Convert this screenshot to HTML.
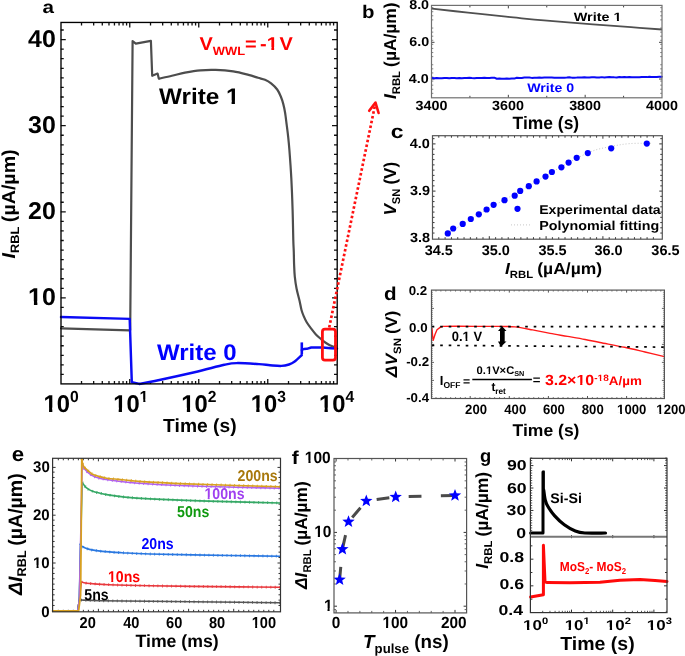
<!DOCTYPE html>
<html><head><meta charset="utf-8"><style>
html,body{margin:0;padding:0;background:#fff;overflow:hidden;}
svg{display:block;font-family:"Liberation Sans", sans-serif;text-rendering:geometricPrecision;will-change:transform;}
</style></head><body>
<svg width="685" height="656" viewBox="0 0 685 656">
<rect width="685" height="656" fill="#fff"/>
<path d="M60.75,297.9h5M337,297.9h-5M60.75,211.8h5M337,211.8h-5M60.75,125.7h5M337,125.7h-5M60.75,39.6h5M337,39.6h-5" fill="none" stroke="#111" stroke-width="1.3" />
<path d="M60.75,374.43h3M337,374.43h-3M60.75,364.87h3M337,364.87h-3M60.75,355.3h3M337,355.3h-3M60.75,345.73h3M337,345.73h-3M60.75,336.17h3M337,336.17h-3M60.75,326.6h3M337,326.6h-3M60.75,317.03h3M337,317.03h-3M60.75,307.46h3M337,307.46h-3M60.75,288.33h3M337,288.33h-3M60.75,278.76h3M337,278.76h-3M60.75,269.2h3M337,269.2h-3M60.75,259.63h3M337,259.63h-3M60.75,250.06h3M337,250.06h-3M60.75,240.5h3M337,240.5h-3M60.75,230.93h3M337,230.93h-3M60.75,221.36h3M337,221.36h-3M60.75,202.23h3M337,202.23h-3M60.75,192.66h3M337,192.66h-3M60.75,183.09h3M337,183.09h-3M60.75,173.53h3M337,173.53h-3M60.75,163.96h3M337,163.96h-3M60.75,154.39h3M337,154.39h-3M60.75,144.82h3M337,144.82h-3M60.75,135.26h3M337,135.26h-3M60.75,116.12h3M337,116.12h-3M60.75,106.56h3M337,106.56h-3M60.75,96.99h3M337,96.99h-3M60.75,87.42h3M337,87.42h-3M60.75,77.86h3M337,77.86h-3M60.75,68.29h3M337,68.29h-3M60.75,58.72h3M337,58.72h-3M60.75,49.15h3M337,49.15h-3M60.75,30.02h3M337,30.02h-3" fill="none" stroke="#111" stroke-width="1.3" />
<path d="M129.75,384v-5M129.75,22.5v5M198.75,384v-5M198.75,22.5v5M267.75,384v-5M267.75,22.5v5" fill="none" stroke="#111" stroke-width="1.3" />
<path d="M81.52,384v-3M81.52,22.5v3M93.67,384v-3M93.67,22.5v3M102.29,384v-3M102.29,22.5v3M108.98,384v-3M108.98,22.5v3M114.44,384v-3M114.44,22.5v3M119.06,384v-3M119.06,22.5v3M123.06,384v-3M123.06,22.5v3M126.59,384v-3M126.59,22.5v3M150.52,384v-3M150.52,22.5v3M162.67,384v-3M162.67,22.5v3M171.29,384v-3M171.29,22.5v3M177.98,384v-3M177.98,22.5v3M183.44,384v-3M183.44,22.5v3M188.06,384v-3M188.06,22.5v3M192.06,384v-3M192.06,22.5v3M195.59,384v-3M195.59,22.5v3M219.52,384v-3M219.52,22.5v3M231.67,384v-3M231.67,22.5v3M240.29,384v-3M240.29,22.5v3M246.98,384v-3M246.98,22.5v3M252.44,384v-3M252.44,22.5v3M257.06,384v-3M257.06,22.5v3M261.06,384v-3M261.06,22.5v3M264.59,384v-3M264.59,22.5v3M288.52,384v-3M288.52,22.5v3M300.67,384v-3M300.67,22.5v3M309.29,384v-3M309.29,22.5v3M315.98,384v-3M315.98,22.5v3M321.44,384v-3M321.44,22.5v3M326.06,384v-3M326.06,22.5v3M330.06,384v-3M330.06,22.5v3M333.59,384v-3M333.59,22.5v3" fill="none" stroke="#111" stroke-width="1.3" />
<polyline points="61,328.4 129.7,330.3" fill="none" stroke="#4d4d4d" stroke-width="2.2" stroke-linejoin="round" stroke-linecap="round" />
<polyline points="130.2,330 132.6,41.1 135.8,43.6 150.9,40.9 152.2,75.8 157.6,73.6 158.8,78.6" fill="none" stroke="#4d4d4d" stroke-width="2.2" stroke-linejoin="round" stroke-linecap="round" />
<path d="M158.8,78.6C160.98,78.13 167.53,76.78 171.9,75.8C176.27,74.82 180.25,73.62 185,72.7C189.75,71.78 195.28,70.77 200.4,70.3C205.52,69.83 210.23,69.72 215.7,69.9C221.17,70.08 227.73,70.57 233.2,71.4C238.67,72.23 244.37,73.83 248.5,74.9C252.63,75.97 255.25,76.98 258,77.8C260.75,78.62 262.82,78.87 265,79.8C267.18,80.73 269.07,81.78 271.1,83.4C273.13,85.02 275.57,87.27 277.2,89.5C278.83,91.73 279.88,94.37 280.9,96.8C281.92,99.23 282.6,101.45 283.3,104.1C284,106.75 284.53,109.23 285.1,112.7C285.67,116.17 286.18,120.83 286.7,124.9C287.22,128.97 287.75,132.92 288.2,137.1C288.65,141.28 288.88,143.18 289.4,150C289.92,156.82 290.77,168 291.3,178C291.83,188 292.27,199.67 292.6,210C292.93,220.33 293.1,232.97 293.3,240C293.5,247.03 293.67,248.13 293.8,252.2C293.93,256.27 293.93,260.33 294.1,264.4C294.27,268.47 294.38,272.53 294.8,276.6C295.22,280.67 295.8,284.73 296.6,288.8C297.4,292.87 298.78,297.47 299.6,301C300.42,304.53 300.82,307.48 301.5,310C302.18,312.52 302.83,314.07 303.7,316.1C304.57,318.13 305.48,320.17 306.7,322.2C307.92,324.23 309.47,326.27 311,328.3C312.53,330.33 314.18,332.57 315.9,334.4C317.62,336.23 319.48,337.78 321.3,339.3C323.12,340.82 324.87,342.28 326.8,343.5C328.73,344.72 331.2,345.93 332.9,346.6C334.6,347.27 336.32,347.35 337,347.5" fill="none" stroke="#4d4d4d" stroke-width="2.2" stroke-linejoin="round"/>
<polyline points="61,317 129.7,318.9 131.8,382.3 139.7,383.9" fill="none" stroke="#0a0af5" stroke-width="2.45" stroke-linejoin="round" stroke-linecap="round" />
<path d="M139.7,383.9C142.22,383.42 145.67,382.93 154.8,381C163.93,379.07 182.92,375 194.5,372.3C206.08,369.6 217.27,366.33 224.3,364.8C231.33,363.27 230.92,363.22 236.7,363.1C242.48,362.98 253.45,363.75 259,364.1C264.55,364.45 266.27,364.9 270,365.2C273.73,365.5 278.23,366.02 281.4,365.9C284.57,365.78 286.78,365.23 289,364.5C291.22,363.77 292.57,363.08 294.7,361.5C296.83,359.92 300.62,356.08 301.8,355" fill="none" stroke="#0a0af5" stroke-width="2.45" stroke-linecap="round"/>
<line x1="301.8" y1="342.4" x2="301.8" y2="354.1" stroke="#0a0af5" stroke-width="2.6" />
<polyline points="301.8,350 303.9,349 306.8,348.8 311.2,347.5 322.8,347.5 330.9,348.2 337,348.6" fill="none" stroke="#0a0af5" stroke-width="2.45" stroke-linejoin="round" stroke-linecap="round" />
<rect x="61" y="22.45" width="276.2" height="361.45" fill="none" stroke="#000" stroke-width="1.35" />
<rect x="322.4" y="329.2" width="13.1" height="30.9" rx="2.6" fill="none" stroke="#ff1010" stroke-width="2.8"/>
<line x1="329.2" y1="327.6" x2="375.2" y2="104.2" stroke="#ff1010" stroke-width="2.7" stroke-dasharray="2.7 2.15"/>
<polyline points="369.2,110.8 375.5,102.6 378.6,113" fill="none" stroke="#ff1010" stroke-width="2.6" stroke-linejoin="round" stroke-linecap="round" />
<path d="M431.5,79.04h3M662,79.04h-3M431.5,42.32h3M662,42.32h-3" fill="none" stroke="#444" stroke-width="1" />
<path d="M431.5,93.32h1.8M662,93.32h-1.8M431.5,89.24h1.8M662,89.24h-1.8M431.5,85.16h1.8M662,85.16h-1.8M431.5,81.08h1.8M662,81.08h-1.8M431.5,77h1.8M662,77h-1.8M431.5,72.92h1.8M662,72.92h-1.8M431.5,68.84h1.8M662,68.84h-1.8M431.5,64.76h1.8M662,64.76h-1.8M431.5,56.6h1.8M662,56.6h-1.8M431.5,52.52h1.8M662,52.52h-1.8M431.5,48.44h1.8M662,48.44h-1.8M431.5,44.37h1.8M662,44.37h-1.8M431.5,40.29h1.8M662,40.29h-1.8M431.5,36.21h1.8M662,36.21h-1.8M431.5,32.13h1.8M662,32.13h-1.8M431.5,28.05h1.8M662,28.05h-1.8M431.5,19.89h1.8M662,19.89h-1.8M431.5,15.81h1.8M662,15.81h-1.8M431.5,11.73h1.8M662,11.73h-1.8M431.5,7.65h1.8M662,7.65h-1.8" fill="none" stroke="#777" stroke-width="0.9" />
<path d="M508.33,97.8v-3M508.33,5.4v3M585.17,97.8v-3M585.17,5.4v3" fill="none" stroke="#444" stroke-width="1" />
<path d="M469.92,97.8v-2M469.92,5.4v2M546.75,97.8v-2M546.75,5.4v2M623.58,97.8v-2M623.58,5.4v2" fill="none" stroke="#444" stroke-width="1" />
<path d="M431.9,8.7C437.92,9.35 455.65,11.28 468,12.6C480.35,13.92 497.33,15.68 506,16.6C514.67,17.52 513.67,17.47 520,18.1C526.33,18.73 531.83,19.35 544,20.4C556.17,21.45 578.5,23.27 593,24.4C607.5,25.53 619.5,26.35 631,27.2C642.5,28.05 656.83,29.12 662,29.5" fill="none" stroke="#505050" stroke-width="1.8" />
<polyline points="431.8,78.08 434.3,78.21 436.8,78.12 439.3,78.21 441.8,78.2 444.3,77.94 446.8,77.91 449.3,78.26 451.8,77.99 454.3,77.97 456.8,78.29 459.3,78.04 461.8,78.19 464.3,78.02 466.8,78.08 469.3,77.85 471.8,78.05 474.3,78.14 476.8,77.98 479.3,78.06 481.8,78.01 484.3,77.73 486.8,78.03 489.3,77.94 491.8,77.8 494.3,77.67 496.8,78.72 499.3,78.54 501.8,78.63 504.3,78.69 506.8,78.6 509.3,78.68 511.8,78.44 514.3,78.6 516.8,77.73 519.3,77.94 521.8,77.9 524.3,77.54 526.8,77.54 529.3,77.57 531.8,77.88 534.3,77.64 536.8,77.71 539.3,77.55 541.8,77.63 544.3,77.56 546.8,77.53 549.3,77.62 551.8,77.61 554.3,77.74 556.8,77.63 559.3,77.72 561.8,77.68 564.3,77.72 566.8,77.57 569.3,77.33 571.8,77.63 574.3,77.66 576.8,77.62 579.3,77.46 581.8,77.51 584.3,77.28 586.8,77.54 589.3,77.41 591.8,77.27 594.3,77.16 596.8,77.49 599.3,77.54 601.8,77.13 604.3,77.43 606.8,77.25 609.3,77.12 611.8,77.17 614.3,77.37 616.8,77.4 619.3,77.02 621.8,77.26 624.3,77 626.8,77.28 629.3,77.1 631.8,77.32 634.3,77.35 636.8,77.13 639.3,77.34 641.8,77.02 644.3,76.91 646.8,77.12 649.3,76.86 651.8,76.92 654.3,77 656.8,77.07 659.3,76.86 661.8,76.8" fill="none" stroke="#0a0af5" stroke-width="2.0" stroke-linejoin="round" stroke-linecap="round" />
<rect x="431.5" y="5.4" width="230.5" height="92.4" fill="none" stroke="#707070" stroke-width="1.2" />
<path d="M432.5,191.1h3M662.3,191.1h-3M432.5,143.9h3M662.3,143.9h-3" fill="none" stroke="#333" stroke-width="1" />
<path d="M432.5,233.06h2M662.3,233.06h-2M432.5,227.81h2M662.3,227.81h-2M432.5,222.57h2M662.3,222.57h-2M432.5,217.32h2M662.3,217.32h-2M432.5,212.08h2M662.3,212.08h-2M432.5,206.83h2M662.3,206.83h-2M432.5,201.59h2M662.3,201.59h-2M432.5,196.34h2M662.3,196.34h-2M432.5,185.86h2M662.3,185.86h-2M432.5,180.61h2M662.3,180.61h-2M432.5,175.37h2M662.3,175.37h-2M432.5,170.12h2M662.3,170.12h-2M432.5,164.88h2M662.3,164.88h-2M432.5,159.63h2M662.3,159.63h-2M432.5,154.39h2M662.3,154.39h-2M432.5,149.14h2M662.3,149.14h-2M432.5,138.66h2M662.3,138.66h-2" fill="none" stroke="#333" stroke-width="1" />
<path d="M489.3,239.2v-3M489.3,135.7v3M546.1,239.2v-3M546.1,135.7v3M602.9,239.2v-3M602.9,135.7v3" fill="none" stroke="#333" stroke-width="1" />
<path d="M438.81,239.2v-2M438.81,135.7v2M445.12,239.2v-2M445.12,135.7v2M451.43,239.2v-2M451.43,135.7v2M457.74,239.2v-2M457.74,135.7v2M464.06,239.2v-2M464.06,135.7v2M470.37,239.2v-2M470.37,135.7v2M476.68,239.2v-2M476.68,135.7v2M482.99,239.2v-2M482.99,135.7v2M495.61,239.2v-2M495.61,135.7v2M501.92,239.2v-2M501.92,135.7v2M508.23,239.2v-2M508.23,135.7v2M514.54,239.2v-2M514.54,135.7v2M520.86,239.2v-2M520.86,135.7v2M527.17,239.2v-2M527.17,135.7v2M533.48,239.2v-2M533.48,135.7v2M539.79,239.2v-2M539.79,135.7v2M552.41,239.2v-2M552.41,135.7v2M558.72,239.2v-2M558.72,135.7v2M565.03,239.2v-2M565.03,135.7v2M571.34,239.2v-2M571.34,135.7v2M577.66,239.2v-2M577.66,135.7v2M583.97,239.2v-2M583.97,135.7v2M590.28,239.2v-2M590.28,135.7v2M596.59,239.2v-2M596.59,135.7v2M609.21,239.2v-2M609.21,135.7v2M615.52,239.2v-2M615.52,135.7v2M621.83,239.2v-2M621.83,135.7v2M628.14,239.2v-2M628.14,135.7v2M634.46,239.2v-2M634.46,135.7v2M640.77,239.2v-2M640.77,135.7v2M647.08,239.2v-2M647.08,135.7v2M653.39,239.2v-2M653.39,135.7v2" fill="none" stroke="#333" stroke-width="1" />
<path d="M445,235.5C450.83,231.83 467.5,220.92 480,213.5C492.5,206.08 506.67,198.67 520,191C533.33,183.33 548.33,174 560,167.5C571.67,161 581.5,155.5 590,152C598.5,148.5 604.33,147.9 611,146.5C617.67,145.1 623.17,144.13 630,143.6C636.83,143.07 648.33,143.35 652,143.3" fill="none" stroke="#c8c8c8" stroke-width="1" stroke-dasharray="1 2"/>
<circle cx="447.8" cy="233.4" r="3.1" fill="#0000ff"/>
<circle cx="453.2" cy="228.5" r="3.1" fill="#0000ff"/>
<circle cx="462.7" cy="223.9" r="3.1" fill="#0000ff"/>
<circle cx="470.8" cy="219" r="3.1" fill="#0000ff"/>
<circle cx="478.8" cy="214.3" r="3.1" fill="#0000ff"/>
<circle cx="486.6" cy="209.5" r="3.1" fill="#0000ff"/>
<circle cx="493.6" cy="204.8" r="3.1" fill="#0000ff"/>
<circle cx="504.5" cy="200.2" r="3.1" fill="#0000ff"/>
<circle cx="514.7" cy="195.7" r="3.1" fill="#0000ff"/>
<circle cx="520.2" cy="190.9" r="3.1" fill="#0000ff"/>
<circle cx="528.8" cy="186.2" r="3.1" fill="#0000ff"/>
<circle cx="536.6" cy="181.4" r="3.1" fill="#0000ff"/>
<circle cx="545.5" cy="176.6" r="3.1" fill="#0000ff"/>
<circle cx="551.9" cy="172" r="3.1" fill="#0000ff"/>
<circle cx="561.4" cy="167.3" r="3.1" fill="#0000ff"/>
<circle cx="568.6" cy="162.6" r="3.1" fill="#0000ff"/>
<circle cx="576.7" cy="157.8" r="3.1" fill="#0000ff"/>
<circle cx="587.8" cy="153.1" r="3.1" fill="#0000ff"/>
<circle cx="611.2" cy="148.3" r="3.1" fill="#0000ff"/>
<circle cx="646.8" cy="143.6" r="3.1" fill="#0000ff"/>
<circle cx="517.5" cy="208.8" r="3.1" fill="#0000ff"/>
<line x1="511" y1="224.9" x2="531.5" y2="224.9" stroke="#c8c8c8" stroke-width="1" stroke-dasharray="1 2"/>
<rect x="432.5" y="135.7" width="229.8" height="103.5" fill="none" stroke="#555" stroke-width="1.2" />
<path d="M431.5,380.4h2.5M664.4,380.4h-2.5M431.5,362.4h2.5M664.4,362.4h-2.5M431.5,344.4h2.5M664.4,344.4h-2.5M431.5,326.4h2.5M664.4,326.4h-2.5M431.5,308.4h2.5M664.4,308.4h-2.5" fill="none" stroke="#555" stroke-width="0.9" />
<path d="M431.5,396.4h1.5M664.4,396.4h-1.5M431.5,394.4h1.5M664.4,394.4h-1.5M431.5,392.4h1.5M664.4,392.4h-1.5M431.5,390.4h1.5M664.4,390.4h-1.5M431.5,388.4h1.5M664.4,388.4h-1.5M431.5,386.4h1.5M664.4,386.4h-1.5M431.5,384.4h1.5M664.4,384.4h-1.5M431.5,382.4h1.5M664.4,382.4h-1.5M431.5,378.4h1.5M664.4,378.4h-1.5M431.5,376.4h1.5M664.4,376.4h-1.5M431.5,374.4h1.5M664.4,374.4h-1.5M431.5,372.4h1.5M664.4,372.4h-1.5M431.5,370.4h1.5M664.4,370.4h-1.5M431.5,368.4h1.5M664.4,368.4h-1.5M431.5,366.4h1.5M664.4,366.4h-1.5M431.5,364.4h1.5M664.4,364.4h-1.5M431.5,360.4h1.5M664.4,360.4h-1.5M431.5,358.4h1.5M664.4,358.4h-1.5M431.5,356.4h1.5M664.4,356.4h-1.5M431.5,354.4h1.5M664.4,354.4h-1.5M431.5,352.4h1.5M664.4,352.4h-1.5M431.5,350.4h1.5M664.4,350.4h-1.5M431.5,348.4h1.5M664.4,348.4h-1.5M431.5,346.4h1.5M664.4,346.4h-1.5M431.5,342.4h1.5M664.4,342.4h-1.5M431.5,340.4h1.5M664.4,340.4h-1.5M431.5,338.4h1.5M664.4,338.4h-1.5M431.5,336.4h1.5M664.4,336.4h-1.5M431.5,334.4h1.5M664.4,334.4h-1.5M431.5,332.4h1.5M664.4,332.4h-1.5M431.5,330.4h1.5M664.4,330.4h-1.5M431.5,328.4h1.5M664.4,328.4h-1.5M431.5,324.4h1.5M664.4,324.4h-1.5M431.5,322.4h1.5M664.4,322.4h-1.5M431.5,320.4h1.5M664.4,320.4h-1.5M431.5,318.4h1.5M664.4,318.4h-1.5M431.5,316.4h1.5M664.4,316.4h-1.5M431.5,314.4h1.5M664.4,314.4h-1.5M431.5,312.4h1.5M664.4,312.4h-1.5M431.5,310.4h1.5M664.4,310.4h-1.5M431.5,306.4h1.5M664.4,306.4h-1.5M431.5,304.4h1.5M664.4,304.4h-1.5M431.5,302.4h1.5M664.4,302.4h-1.5M431.5,300.4h1.5M664.4,300.4h-1.5M431.5,298.4h1.5M664.4,298.4h-1.5M431.5,296.4h1.5M664.4,296.4h-1.5M431.5,294.4h1.5M664.4,294.4h-1.5M431.5,292.4h1.5M664.4,292.4h-1.5" fill="none" stroke="#888" stroke-width="0.7" />
<path d="M470.2,398.5v-2.5M470.2,290.1v2.5M509.3,398.5v-2.5M509.3,290.1v2.5M548.4,398.5v-2.5M548.4,290.1v2.5M587.5,398.5v-2.5M587.5,290.1v2.5M626.6,398.5v-2.5M626.6,290.1v2.5" fill="none" stroke="#444" stroke-width="0.9" />
<path d="M435.99,398.5v-1.5M435.99,290.1v1.5M440.88,398.5v-1.5M440.88,290.1v1.5M445.76,398.5v-1.5M445.76,290.1v1.5M450.65,398.5v-1.5M450.65,290.1v1.5M455.54,398.5v-1.5M455.54,290.1v1.5M460.43,398.5v-1.5M460.43,290.1v1.5M465.31,398.5v-1.5M465.31,290.1v1.5M475.09,398.5v-1.5M475.09,290.1v1.5M479.98,398.5v-1.5M479.98,290.1v1.5M484.86,398.5v-1.5M484.86,290.1v1.5M489.75,398.5v-1.5M489.75,290.1v1.5M494.64,398.5v-1.5M494.64,290.1v1.5M499.53,398.5v-1.5M499.53,290.1v1.5M504.41,398.5v-1.5M504.41,290.1v1.5M514.19,398.5v-1.5M514.19,290.1v1.5M519.08,398.5v-1.5M519.08,290.1v1.5M523.96,398.5v-1.5M523.96,290.1v1.5M528.85,398.5v-1.5M528.85,290.1v1.5M533.74,398.5v-1.5M533.74,290.1v1.5M538.62,398.5v-1.5M538.62,290.1v1.5M543.51,398.5v-1.5M543.51,290.1v1.5M553.29,398.5v-1.5M553.29,290.1v1.5M558.18,398.5v-1.5M558.18,290.1v1.5M563.06,398.5v-1.5M563.06,290.1v1.5M567.95,398.5v-1.5M567.95,290.1v1.5M572.84,398.5v-1.5M572.84,290.1v1.5M577.73,398.5v-1.5M577.73,290.1v1.5M582.61,398.5v-1.5M582.61,290.1v1.5M592.39,398.5v-1.5M592.39,290.1v1.5M597.28,398.5v-1.5M597.28,290.1v1.5M602.16,398.5v-1.5M602.16,290.1v1.5M607.05,398.5v-1.5M607.05,290.1v1.5M611.94,398.5v-1.5M611.94,290.1v1.5M616.83,398.5v-1.5M616.83,290.1v1.5M621.71,398.5v-1.5M621.71,290.1v1.5M631.49,398.5v-1.5M631.49,290.1v1.5M636.38,398.5v-1.5M636.38,290.1v1.5M641.26,398.5v-1.5M641.26,290.1v1.5M646.15,398.5v-1.5M646.15,290.1v1.5M651.04,398.5v-1.5M651.04,290.1v1.5M655.92,398.5v-1.5M655.92,290.1v1.5M660.81,398.5v-1.5M660.81,290.1v1.5" fill="none" stroke="#666" stroke-width="0.8" />
<polyline points="432,328.8 432.6,336 433.2,340.4 435,334.5 437,329.8 440.5,327.1 443.1,326.4" fill="none" stroke="#ff1a1a" stroke-width="1.4" stroke-linejoin="round" stroke-linecap="round" />
<path d="M443.1,326.4C445.92,326.38 453.85,326.3 460,326.3C466.15,326.3 473.17,326.38 480,326.4C486.83,326.42 495.17,326.32 501,326.4C506.83,326.48 509.73,326.32 515,326.9C520.27,327.48 526.75,328.82 532.6,329.9C538.45,330.98 544.27,332.32 550.1,333.4C555.93,334.48 561.77,335.38 567.6,336.4C573.43,337.42 579.7,338.48 585.1,339.5C590.5,340.52 593.4,341.2 600,342.5C606.6,343.8 617.2,345.72 624.7,347.3C632.2,348.88 638.38,350.45 645,352C651.62,353.55 661.17,355.83 664.4,356.6" fill="none" stroke="#ff1a1a" stroke-width="1.4" />
<line x1="431.7" y1="326.7" x2="664.4" y2="326.7" stroke="#000" stroke-width="1.7" stroke-dasharray="2.6 5.9"/>
<line x1="431.7" y1="345.3" x2="664.4" y2="347.1" stroke="#000" stroke-width="1.7" stroke-dasharray="2.6 5.9"/>
<path d="M502.1,326.3 L498,331 L500,331 L500,341.6 L498,341.6 L500.9,346.7 L506.5,341.6 L504.7,341.6 L504.7,331 L506.5,331 Z" fill="#000"/>
<line x1="472.3" y1="379.4" x2="531.9" y2="379.4" stroke="#000" stroke-width="1.5" />
<rect x="431.5" y="290.1" width="232.9" height="108.4" fill="none" stroke="#555" stroke-width="1.2" />
<path d="M52.6,563h3M280.5,563h-3M52.6,515.2h3M280.5,515.2h-3M52.6,467.4h3M280.5,467.4h-3" fill="none" stroke="#333" stroke-width="1" />
<path d="M52.6,605.47h2M280.5,605.47h-2M52.6,600.13h2M280.5,600.13h-2M52.6,594.8h2M280.5,594.8h-2M52.6,589.47h2M280.5,589.47h-2M52.6,584.13h2M280.5,584.13h-2M52.6,578.8h2M280.5,578.8h-2M52.6,573.47h2M280.5,573.47h-2M52.6,568.13h2M280.5,568.13h-2M52.6,557.47h2M280.5,557.47h-2M52.6,552.13h2M280.5,552.13h-2M52.6,546.8h2M280.5,546.8h-2M52.6,541.47h2M280.5,541.47h-2M52.6,536.13h2M280.5,536.13h-2M52.6,530.8h2M280.5,530.8h-2M52.6,525.47h2M280.5,525.47h-2M52.6,520.13h2M280.5,520.13h-2M52.6,509.47h2M280.5,509.47h-2M52.6,504.13h2M280.5,504.13h-2M52.6,498.8h2M280.5,498.8h-2M52.6,493.47h2M280.5,493.47h-2M52.6,488.13h2M280.5,488.13h-2M52.6,482.8h2M280.5,482.8h-2M52.6,477.47h2M280.5,477.47h-2M52.6,472.13h2M280.5,472.13h-2" fill="none" stroke="#333" stroke-width="1" />
<path d="M98.4,611.8v-3M98.4,458.3v3M143.5,611.8v-3M143.5,458.3v3M188.6,611.8v-3M188.6,458.3v3M233.7,611.8v-3M233.7,458.3v3" fill="none" stroke="#333" stroke-width="1" />
<path d="M58.31,611.8v-2M58.31,458.3v2M63.32,611.8v-2M63.32,458.3v2M68.33,611.8v-2M68.33,458.3v2M73.34,611.8v-2M73.34,458.3v2M78.36,611.8v-2M78.36,458.3v2M83.37,611.8v-2M83.37,458.3v2M88.38,611.8v-2M88.38,458.3v2M93.39,611.8v-2M93.39,458.3v2M103.41,611.8v-2M103.41,458.3v2M108.42,611.8v-2M108.42,458.3v2M113.43,611.8v-2M113.43,458.3v2M118.44,611.8v-2M118.44,458.3v2M123.46,611.8v-2M123.46,458.3v2M128.47,611.8v-2M128.47,458.3v2M133.48,611.8v-2M133.48,458.3v2M138.49,611.8v-2M138.49,458.3v2M148.51,611.8v-2M148.51,458.3v2M153.52,611.8v-2M153.52,458.3v2M158.53,611.8v-2M158.53,458.3v2M163.54,611.8v-2M163.54,458.3v2M168.56,611.8v-2M168.56,458.3v2M173.57,611.8v-2M173.57,458.3v2M178.58,611.8v-2M178.58,458.3v2M183.59,611.8v-2M183.59,458.3v2M193.61,611.8v-2M193.61,458.3v2M198.62,611.8v-2M198.62,458.3v2M203.63,611.8v-2M203.63,458.3v2M208.64,611.8v-2M208.64,458.3v2M213.66,611.8v-2M213.66,458.3v2M218.67,611.8v-2M218.67,458.3v2M223.68,611.8v-2M223.68,458.3v2M228.69,611.8v-2M228.69,458.3v2M238.71,611.8v-2M238.71,458.3v2M243.72,611.8v-2M243.72,458.3v2M248.73,611.8v-2M248.73,458.3v2M253.74,611.8v-2M253.74,458.3v2M258.76,611.8v-2M258.76,458.3v2M263.77,611.8v-2M263.77,458.3v2M268.78,611.8v-2M268.78,458.3v2M273.79,611.8v-2M273.79,458.3v2" fill="none" stroke="#333" stroke-width="1" />
<polyline points="52.6,611 77.6,611 79.3,600 81,600" fill="none" stroke="#555555" stroke-width="1.5" stroke-linejoin="round" stroke-linecap="round" />
<path d="M81,600C84.17,600.12 88.5,600.48 100,600.7C111.5,600.92 130.83,601.08 150,601.3C169.17,601.52 193.33,601.75 215,602C236.67,602.25 269.17,602.67 280,602.8" fill="none" stroke="#555555" stroke-width="1.6" />
<path d="M81,600C84.17,600.12 88.5,600.48 100,600.7C111.5,600.92 130.83,601.08 150,601.3C169.17,601.52 193.33,601.75 215,602C236.67,602.25 269.17,602.67 280,602.8" fill="none" stroke="#555555" stroke-width="2.8" stroke-dasharray="1 3.5" opacity="0.85"/>
<polyline points="52.6,611 77.6,611 79.3,600 81.4,581.9" fill="none" stroke="#e8383d" stroke-width="1.5" stroke-linejoin="round" stroke-linecap="round" />
<path d="M81.4,581.9C82.32,582.12 82.32,582.73 86.9,583.2C91.48,583.67 98.38,584.27 108.9,584.7C119.42,585.13 132.32,585.48 150,585.8C167.68,586.12 193.33,586.35 215,586.6C236.67,586.85 269.17,587.18 280,587.3" fill="none" stroke="#e8383d" stroke-width="1.6" />
<path d="M81.4,581.9C82.32,582.12 82.32,582.73 86.9,583.2C91.48,583.67 98.38,584.27 108.9,584.7C119.42,585.13 132.32,585.48 150,585.8C167.68,586.12 193.33,586.35 215,586.6C236.67,586.85 269.17,587.18 280,587.3" fill="none" stroke="#e8383d" stroke-width="2.8" stroke-dasharray="1 3.5" opacity="0.85"/>
<polyline points="52.6,611 77.6,611 79.3,600 80.4,543.6" fill="none" stroke="#2a78e0" stroke-width="1.5" stroke-linejoin="round" stroke-linecap="round" />
<path d="M80.4,543.6C80.62,544.03 80.2,545.23 81.7,546.2C83.2,547.17 85.95,548.53 89.4,549.4C92.85,550.27 96.98,550.85 102.4,551.4C107.82,551.95 113.97,552.27 121.9,552.7C129.83,553.13 131.98,553.53 150,554C168.02,554.47 208.33,555.13 230,555.5C251.67,555.87 271.67,556.08 280,556.2" fill="none" stroke="#2a78e0" stroke-width="1.6" />
<path d="M80.4,543.6C80.62,544.03 80.2,545.23 81.7,546.2C83.2,547.17 85.95,548.53 89.4,549.4C92.85,550.27 96.98,550.85 102.4,551.4C107.82,551.95 113.97,552.27 121.9,552.7C129.83,553.13 131.98,553.53 150,554C168.02,554.47 208.33,555.13 230,555.5C251.67,555.87 271.67,556.08 280,556.2" fill="none" stroke="#2a78e0" stroke-width="2.8" stroke-dasharray="1 3.5" opacity="0.85"/>
<polyline points="52.6,611 77.6,611 79.3,600 82.2,482.4" fill="none" stroke="#35a865" stroke-width="1.5" stroke-linejoin="round" stroke-linecap="round" />
<path d="M82.2,482.4C82.82,483.22 84.27,485.87 85.9,487.3C87.53,488.73 88.55,489.78 92,491C95.45,492.22 101.12,493.58 106.6,494.6C112.08,495.62 117.67,496.38 124.9,497.1C132.13,497.82 137.48,498.27 150,498.9C162.52,499.53 178.33,500.22 200,500.9C221.67,501.58 266.67,502.65 280,503" fill="none" stroke="#35a865" stroke-width="1.6" />
<path d="M82.2,482.4C82.82,483.22 84.27,485.87 85.9,487.3C87.53,488.73 88.55,489.78 92,491C95.45,492.22 101.12,493.58 106.6,494.6C112.08,495.62 117.67,496.38 124.9,497.1C132.13,497.82 137.48,498.27 150,498.9C162.52,499.53 178.33,500.22 200,500.9C221.67,501.58 266.67,502.65 280,503" fill="none" stroke="#35a865" stroke-width="2.8" stroke-dasharray="1 3.5" opacity="0.85"/>
<polyline points="52.6,611 77.6,611 79.3,600 82.2,464.1" fill="none" stroke="#b060f0" stroke-width="1.5" stroke-linejoin="round" stroke-linecap="round" />
<path d="M82.2,464.1C82.6,464.92 83.08,467.17 84.6,469C86.12,470.83 88.65,473.52 91.3,475.1C93.95,476.68 95.92,477.48 100.5,478.5C105.08,479.52 110.55,480.28 118.8,481.2C127.05,482.12 136.47,483.15 150,484C163.53,484.85 178.33,485.6 200,486.3C221.67,487 266.67,487.88 280,488.2" fill="none" stroke="#b060f0" stroke-width="1.6" />
<path d="M82.2,464.1C82.6,464.92 83.08,467.17 84.6,469C86.12,470.83 88.65,473.52 91.3,475.1C93.95,476.68 95.92,477.48 100.5,478.5C105.08,479.52 110.55,480.28 118.8,481.2C127.05,482.12 136.47,483.15 150,484C163.53,484.85 178.33,485.6 200,486.3C221.67,487 266.67,487.88 280,488.2" fill="none" stroke="#b060f0" stroke-width="2.8" stroke-dasharray="1 3.5" opacity="0.85"/>
<polyline points="52.6,611 78.6,611 80.6,595 81.8,459" fill="none" stroke="#d8a020" stroke-width="1.8" stroke-linejoin="round" stroke-linecap="round" />
<path d="M81.8,459C82.07,460.17 82.32,464.02 83.4,466C84.48,467.98 86.47,469.38 88.3,470.9C90.13,472.42 91.35,473.88 94.4,475.1C97.45,476.32 102.53,477.48 106.6,478.2C110.67,478.92 114.73,479 118.8,479.4C122.87,479.8 125.8,480.15 131,480.6C136.2,481.05 138.5,481.48 150,482.1C161.5,482.72 178.33,483.53 200,484.3C221.67,485.07 266.67,486.3 280,486.7" fill="none" stroke="#d8a020" stroke-width="1.6" />
<path d="M81.8,459C82.07,460.17 82.32,464.02 83.4,466C84.48,467.98 86.47,469.38 88.3,470.9C90.13,472.42 91.35,473.88 94.4,475.1C97.45,476.32 102.53,477.48 106.6,478.2C110.67,478.92 114.73,479 118.8,479.4C122.87,479.8 125.8,480.15 131,480.6C136.2,481.05 138.5,481.48 150,482.1C161.5,482.72 178.33,483.53 200,484.3C221.67,485.07 266.67,486.3 280,486.7" fill="none" stroke="#d8a020" stroke-width="2.8" stroke-dasharray="1 3.5" opacity="0.85"/>
<rect x="52.6" y="458.3" width="227.9" height="153.5" fill="none" stroke="#333" stroke-width="1.2" />
<path d="M334,606.2h3M466.6,606.2h-3M334,532.4h3M466.6,532.4h-3" fill="none" stroke="#333" stroke-width="1" />
<path d="M334,583.98h2M466.6,583.98h-2M334,570.99h2M466.6,570.99h-2M334,561.77h2M466.6,561.77h-2M334,554.62h2M466.6,554.62h-2M334,548.77h2M466.6,548.77h-2M334,543.83h2M466.6,543.83h-2M334,539.55h2M466.6,539.55h-2M334,535.78h2M466.6,535.78h-2M334,510.18h2M466.6,510.18h-2M334,497.19h2M466.6,497.19h-2M334,487.97h2M466.6,487.97h-2M334,480.82h2M466.6,480.82h-2M334,474.97h2M466.6,474.97h-2M334,470.03h2M466.6,470.03h-2M334,465.75h2M466.6,465.75h-2M334,461.98h2M466.6,461.98h-2" fill="none" stroke="#555" stroke-width="0.9" />
<path d="M334,609.58h2M466.6,609.58h-2" fill="none" stroke="#555" stroke-width="0.9" />
<path d="M336.1,612.9v-3M336.1,458.5v3M395.55,612.9v-3M395.55,458.5v3M455,612.9v-3M455,458.5v3" fill="none" stroke="#333" stroke-width="1" />
<path d="M347.99,612.9v-2M347.99,458.5v2M359.88,612.9v-2M359.88,458.5v2M371.77,612.9v-2M371.77,458.5v2M383.66,612.9v-2M383.66,458.5v2M407.44,612.9v-2M407.44,458.5v2M419.33,612.9v-2M419.33,458.5v2M431.22,612.9v-2M431.22,458.5v2M443.11,612.9v-2M443.11,458.5v2" fill="none" stroke="#555" stroke-width="0.9" />
<path d="M339.6,579.7 L342.4,549.2 L348.5,521.8 L366.3,500.9 L395.7,496.9 L455,495.5" fill="none" stroke="#4a4a4a" stroke-width="3.0" stroke-dasharray="12.8 19.4"/>
<polygon points="339.6,573.2 341.22,577.48 345.78,577.69 342.22,580.55 343.42,584.96 339.6,582.45 335.78,584.96 336.98,580.55 333.42,577.69 337.98,577.48" fill="#0000ff"/>
<polygon points="342.4,542.7 344.02,546.98 348.58,547.19 345.02,550.05 346.22,554.46 342.4,551.95 338.58,554.46 339.78,550.05 336.22,547.19 340.78,546.98" fill="#0000ff"/>
<polygon points="348.5,515.3 350.12,519.58 354.68,519.79 351.12,522.65 352.32,527.06 348.5,524.55 344.68,527.06 345.88,522.65 342.32,519.79 346.88,519.58" fill="#0000ff"/>
<polygon points="366.3,494.4 367.92,498.68 372.48,498.89 368.92,501.75 370.12,506.16 366.3,503.65 362.48,506.16 363.68,501.75 360.12,498.89 364.68,498.68" fill="#0000ff"/>
<polygon points="395.7,490.4 397.32,494.68 401.88,494.89 398.32,497.75 399.52,502.16 395.7,499.65 391.88,502.16 393.08,497.75 389.52,494.89 394.08,494.68" fill="#0000ff"/>
<polygon points="455,489 456.62,493.28 461.18,493.49 457.62,496.35 458.82,500.76 455,498.25 451.18,500.76 452.38,496.35 448.82,493.49 453.38,493.28" fill="#0000ff"/>
<rect x="334" y="458.5" width="132.6" height="154.4" fill="none" stroke="#555" stroke-width="1.2" />
<path d="M530.4,510.46h3M667,510.46h-3M530.4,488.02h3M667,488.02h-3M530.4,465.58h3M667,465.58h-3" fill="none" stroke="#333" stroke-width="1" />
<path d="M530.4,530.41h1.8M667,530.41h-1.8M530.4,527.91h1.8M667,527.91h-1.8M530.4,525.42h1.8M667,525.42h-1.8M530.4,522.93h1.8M667,522.93h-1.8M530.4,520.43h1.8M667,520.43h-1.8M530.4,517.94h1.8M667,517.94h-1.8M530.4,515.45h1.8M667,515.45h-1.8M530.4,512.95h1.8M667,512.95h-1.8M530.4,507.97h1.8M667,507.97h-1.8M530.4,505.47h1.8M667,505.47h-1.8M530.4,502.98h1.8M667,502.98h-1.8M530.4,500.49h1.8M667,500.49h-1.8M530.4,497.99h1.8M667,497.99h-1.8M530.4,495.5h1.8M667,495.5h-1.8M530.4,493.01h1.8M667,493.01h-1.8M530.4,490.51h1.8M667,490.51h-1.8M530.4,485.53h1.8M667,485.53h-1.8M530.4,483.03h1.8M667,483.03h-1.8M530.4,480.54h1.8M667,480.54h-1.8M530.4,478.05h1.8M667,478.05h-1.8M530.4,475.55h1.8M667,475.55h-1.8M530.4,473.06h1.8M667,473.06h-1.8M530.4,470.57h1.8M667,470.57h-1.8M530.4,468.07h1.8M667,468.07h-1.8M530.4,463.09h1.8M667,463.09h-1.8M530.4,460.59h1.8M667,460.59h-1.8M530.4,458.1h1.8M667,458.1h-1.8" fill="none" stroke="#444" stroke-width="0.9" />
<path d="M530.4,585.84h3M667,585.84h-3M530.4,559.18h3M667,559.18h-3" fill="none" stroke="#333" stroke-width="1" />
<path d="M530.4,599.17h2M667,599.17h-2M530.4,572.51h2M667,572.51h-2M530.4,545.85h2M667,545.85h-2" fill="none" stroke="#333" stroke-width="1" />
<path d="M571.5,612.6v-3M571.5,458.3v3M612.7,612.6v-3M612.7,458.3v3M653.9,612.6v-3M653.9,458.3v3" fill="none" stroke="#333" stroke-width="1" />
<path d="M542.7,612.6v-1.8M542.7,458.3v1.8M549.96,612.6v-1.8M549.96,458.3v1.8M555.1,612.6v-1.8M555.1,458.3v1.8M559.1,612.6v-1.8M559.1,458.3v1.8M562.36,612.6v-1.8M562.36,458.3v1.8M565.12,612.6v-1.8M565.12,458.3v1.8M567.51,612.6v-1.8M567.51,458.3v1.8M569.61,612.6v-1.8M569.61,458.3v1.8M583.9,612.6v-1.8M583.9,458.3v1.8M591.16,612.6v-1.8M591.16,458.3v1.8M596.3,612.6v-1.8M596.3,458.3v1.8M600.3,612.6v-1.8M600.3,458.3v1.8M603.56,612.6v-1.8M603.56,458.3v1.8M606.32,612.6v-1.8M606.32,458.3v1.8M608.71,612.6v-1.8M608.71,458.3v1.8M610.81,612.6v-1.8M610.81,458.3v1.8M625.1,612.6v-1.8M625.1,458.3v1.8M632.36,612.6v-1.8M632.36,458.3v1.8M637.5,612.6v-1.8M637.5,458.3v1.8M641.5,612.6v-1.8M641.5,458.3v1.8M644.76,612.6v-1.8M644.76,458.3v1.8M647.52,612.6v-1.8M647.52,458.3v1.8M649.91,612.6v-1.8M649.91,458.3v1.8M652.01,612.6v-1.8M652.01,458.3v1.8M666.3,612.6v-1.8M666.3,458.3v1.8" fill="none" stroke="#444" stroke-width="0.9" />
<path d="M571.5,537.7v-2.5M571.5,535.7v2.5M612.7,537.7v-2.5M612.7,535.7v2.5M653.9,537.7v-2.5M653.9,535.7v2.5" fill="none" stroke="#333" stroke-width="1" />
<polyline points="530.6,533 543,533 543,472" fill="none" stroke="#000" stroke-width="3" stroke-linejoin="round" stroke-linecap="round" />
<line x1="543.7" y1="470.6" x2="543.7" y2="494" stroke="#000" stroke-width="2.2" />
<path d="M543.7,490C543.95,491.67 544.52,497.28 545.2,500C545.88,502.72 546.22,503.65 547.8,506.3C549.38,508.95 551.95,512.82 554.7,515.9C557.45,518.98 560.87,522.28 564.3,524.8C567.73,527.32 571.87,529.63 575.3,531C578.73,532.37 579.87,532.67 584.9,533C589.93,533.33 602.07,533 605.5,533" fill="none" stroke="#000" stroke-width="3.2" stroke-linecap="round"/>
<polyline points="530.6,597.1 543.4,594.8 543.4,545.2 545,581.8 547.3,582.6 570,582.8 600,582.3 620,580.2 640,579.4 655,580.6 667,581.5" fill="none" stroke="#ff0a0a" stroke-width="3" stroke-linejoin="round" stroke-linecap="round" />
<line x1="530.4" y1="536.7" x2="667" y2="536.7" stroke="#777" stroke-width="2" />
<rect x="530.4" y="458.3" width="136.6" height="154.3" fill="none" stroke="#333" stroke-width="1.2" />
<text transform="translate(42.57,12.8) scale(1.0300,0.8727)" font-size="20" font-weight="bold" fill="#000">a</text>
<text transform="translate(361.88,18.1) scale(1.0200,0.9133)" font-size="20" font-weight="bold" fill="#000">b</text>
<text transform="translate(390.76,137.7) scale(1.1444,0.9636)" font-size="20" font-weight="bold" fill="#000">c</text>
<text transform="translate(383.97,299.5) scale(1.0300,0.9267)" font-size="20" font-weight="bold" fill="#000">d</text>
<text transform="translate(11.79,461.4) scale(1.1111,1.0182)" font-size="20" font-weight="bold" fill="#000">e</text>
<text transform="translate(291.8,463.7) scale(1.0429,0.9267)" font-size="20" font-weight="bold" fill="#000">f</text>
<text transform="translate(479.98,461.95) scale(0.9200,0.9133)" font-size="20" font-weight="bold" fill="#000">g</text>
<text transform="translate(28.12,47) scale(1.2469,1.2143)" font-size="20" font-weight="bold" fill="#000">40</text>
<text transform="translate(28.12,133.2) scale(1.2469,1.2143)" font-size="20" font-weight="bold" fill="#000">30</text>
<text transform="translate(28.12,219) scale(1.2469,1.2143)" font-size="20" font-weight="bold" fill="#000">20</text>
<mask id="m_a10" maskUnits="userSpaceOnUse" x="-200" y="-200" width="800" height="400"><rect x="-200" y="-200" width="800" height="400" fill="#fff"/><rect x="-0.2" y="-3.22" width="4.86" height="5.62" fill="#000"/><rect x="7.41" y="-3.22" width="4.01" height="5.62" fill="#000"/></mask>
<text transform="translate(28.12,305.2) scale(1.2469,1.2143)" font-size="20" font-weight="bold" fill="#000" mask="url(#m_a10)">10</text>
<mask id="m_ax0" maskUnits="userSpaceOnUse" x="-200" y="-200" width="800" height="400"><rect x="-200" y="-200" width="800" height="400" fill="#fff"/><rect x="-0.2" y="-3.22" width="4.86" height="5.62" fill="#000"/><rect x="7.41" y="-3.22" width="4.01" height="5.62" fill="#000"/></mask>
<text transform="translate(43.51,411.5) scale(1.1893,1.2118)" font-size="20" font-weight="bold" fill="#000" mask="url(#m_ax0)">10<tspan font-size="13.2" dy="-7.8">0</tspan></text>
<mask id="m_ax1" maskUnits="userSpaceOnUse" x="-200" y="-200" width="800" height="400"><rect x="-200" y="-200" width="800" height="400" fill="#fff"/><rect x="-0.2" y="-3.22" width="4.86" height="5.62" fill="#000"/><rect x="7.41" y="-3.22" width="4.01" height="5.62" fill="#000"/><rect x="22.12" y="-9.93" width="3.21" height="3.71" fill="#000"/><rect x="27.14" y="-9.93" width="2.65" height="3.71" fill="#000"/></mask>
<text transform="translate(113.15,411.5) scale(1.1893,1.2118)" font-size="20" font-weight="bold" fill="#000" mask="url(#m_ax1)">10<tspan font-size="13.2" dy="-7.8">1</tspan></text>
<mask id="m_ax2" maskUnits="userSpaceOnUse" x="-200" y="-200" width="800" height="400"><rect x="-200" y="-200" width="800" height="400" fill="#fff"/><rect x="-0.2" y="-3.22" width="4.86" height="5.62" fill="#000"/><rect x="7.41" y="-3.22" width="4.01" height="5.62" fill="#000"/></mask>
<text transform="translate(181.31,411.5) scale(1.1893,1.2118)" font-size="20" font-weight="bold" fill="#000" mask="url(#m_ax2)">10<tspan font-size="13.2" dy="-7.8">2</tspan></text>
<mask id="m_ax3" maskUnits="userSpaceOnUse" x="-200" y="-200" width="800" height="400"><rect x="-200" y="-200" width="800" height="400" fill="#fff"/><rect x="-0.2" y="-3.22" width="4.86" height="5.62" fill="#000"/><rect x="7.41" y="-3.22" width="4.01" height="5.62" fill="#000"/></mask>
<text transform="translate(250.71,411.5) scale(1.1893,1.2118)" font-size="20" font-weight="bold" fill="#000" mask="url(#m_ax3)">10<tspan font-size="13.2" dy="-7.8">3</tspan></text>
<mask id="m_ax4" maskUnits="userSpaceOnUse" x="-200" y="-200" width="800" height="400"><rect x="-200" y="-200" width="800" height="400" fill="#fff"/><rect x="-0.2" y="-3.22" width="4.86" height="5.62" fill="#000"/><rect x="7.41" y="-3.22" width="4.01" height="5.62" fill="#000"/></mask>
<text transform="translate(318.97,411.5) scale(1.1893,1.2118)" font-size="20" font-weight="bold" fill="#000" mask="url(#m_ax4)">10<tspan font-size="13.2" dy="-7.8">4</tspan></text>
<text transform="translate(163.1,431.79) scale(0.9640,0.9526)" font-size="20" font-weight="bold" fill="#000">Time (s)</text>
<text transform="translate(14.52,258.5) scale(0.9350,0.9818) rotate(-90)" font-size="20" font-weight="bold" fill="#000"><tspan font-style="italic">I</tspan><tspan font-size="13.0" dy="4.6">RBL</tspan><tspan dx="-0.8" dy="-4.6"> (µA/µm)</tspan></text>
<mask id="m_avwwl" maskUnits="userSpaceOnUse" x="-200" y="-200" width="800" height="400"><rect x="-200" y="-200" width="800" height="400" fill="#fff"/><rect x="67.34" y="-3.23" width="4.87" height="5.63" fill="#000"/><rect x="74.96" y="-3.23" width="4.02" height="5.63" fill="#000"/></mask>
<text transform="translate(199.4,50.05) scale(0.9968,0.9250)" font-size="20" font-weight="bold" fill="#ff0000" mask="url(#m_avwwl)">V<tspan font-size="13" dy="5.5">WWL</tspan><tspan dy="-5.5">= </tspan><tspan dx="-2.2">-1</tspan><tspan dx="1.6">V</tspan></text>
<mask id="m_aw1" maskUnits="userSpaceOnUse" x="-200" y="-200" width="800" height="400"><rect x="-200" y="-200" width="800" height="400" fill="#fff"/><rect x="54.99" y="-3.23" width="4.87" height="5.63" fill="#000"/><rect x="62.61" y="-3.23" width="4.02" height="5.63" fill="#000"/></mask>
<text transform="translate(159,104.1) scale(1.2127,1.1267)" font-size="20" font-weight="bold" fill="#000" mask="url(#m_aw1)">Write 1</text>
<text transform="translate(157,360.3) scale(1.1985,1.1333)" font-size="20" font-weight="bold" fill="#0000ff">Write 0</text>
<text transform="translate(409.18,8.95) scale(0.7154,0.6500)" font-size="20" font-weight="bold" fill="#000">8.0</text>
<text transform="translate(409.28,46.1) scale(0.7154,0.6500)" font-size="20" font-weight="bold" fill="#000">6.0</text>
<text transform="translate(408.78,83.25) scale(0.7154,0.6500)" font-size="20" font-weight="bold" fill="#000">4.0</text>
<text transform="translate(415.53,110.05) scale(0.7163,0.6679)" font-size="20" font-weight="bold" fill="#000">3400</text>
<text transform="translate(491.98,110.05) scale(0.7163,0.6679)" font-size="20" font-weight="bold" fill="#000">3600</text>
<text transform="translate(569.13,110.05) scale(0.7163,0.6679)" font-size="20" font-weight="bold" fill="#000">3800</text>
<text transform="translate(646.09,110.05) scale(0.7163,0.6679)" font-size="20" font-weight="bold" fill="#000">4000</text>
<text transform="translate(512.6,129.22) scale(0.8720,0.8947)" font-size="20" font-weight="bold" fill="#000">Time (s)</text>
<mask id="m_bw1" maskUnits="userSpaceOnUse" x="-200" y="-200" width="800" height="400"><rect x="-200" y="-200" width="800" height="400" fill="#fff"/><rect x="54.99" y="-3.23" width="4.87" height="5.63" fill="#000"/><rect x="62.61" y="-3.23" width="4.02" height="5.63" fill="#000"/></mask>
<text transform="translate(573.7,21) scale(0.7222,0.6067)" font-size="20" font-weight="bold" fill="#000" mask="url(#m_bw1)">Write 1</text>
<text transform="translate(527.2,92.2) scale(0.7076,0.6267)" font-size="20" font-weight="bold" fill="#0000ff">Write 0</text>
<text transform="translate(396.3,99.1) scale(0.8600,0.8700) rotate(-90)" font-size="20" font-weight="bold" fill="#000"><tspan font-style="italic">I</tspan><tspan font-size="13.0" dy="4.6">RBL</tspan><tspan dx="-0.8" dy="-4.6"> (µA/µm)</tspan></text>
<text transform="translate(409.68,147.75) scale(0.7231,0.6714)" font-size="20" font-weight="bold" fill="#000">4.0</text>
<text transform="translate(409.98,195.3) scale(0.7231,0.6714)" font-size="20" font-weight="bold" fill="#000">3.9</text>
<text transform="translate(409.98,241.65) scale(0.7231,0.6714)" font-size="20" font-weight="bold" fill="#000">3.8</text>
<text transform="translate(424.68,254.9) scale(0.7243,0.7071)" font-size="20" font-weight="bold" fill="#000">34.5</text>
<text transform="translate(481.68,254.9) scale(0.7243,0.7071)" font-size="20" font-weight="bold" fill="#000">35.0</text>
<text transform="translate(538.43,254.9) scale(0.7243,0.7071)" font-size="20" font-weight="bold" fill="#000">35.5</text>
<text transform="translate(594.43,254.9) scale(0.7243,0.7071)" font-size="20" font-weight="bold" fill="#000">36.0</text>
<text transform="translate(651.33,254.9) scale(0.7243,0.7071)" font-size="20" font-weight="bold" fill="#000">36.5</text>
<text transform="translate(505,274.48) scale(0.8727,0.8050)" font-size="20" font-weight="bold" fill="#000"><tspan font-style="italic">I</tspan><tspan font-size="13.0" dy="4.6">RBL</tspan><tspan dx="-0.8" dy="-4.6"> (µA/µm)</tspan></text>
<text transform="translate(395.97,215.62) scale(0.8650,0.8583) rotate(-90)" font-size="20" font-weight="bold" fill="#000"><tspan font-style="italic">V</tspan><tspan font-size="13.0" dy="4.6">SN</tspan><tspan dx="-0.8" dy="-4.6"> (V)</tspan></text>
<text transform="translate(539.19,213.55) scale(0.7052,0.6368)" font-size="20" font-weight="bold" fill="#000">Experimental data</text>
<text transform="translate(539.18,230.11) scale(0.7158,0.6474)" font-size="20" font-weight="bold" fill="#000">Polynomial fitting</text>
<text transform="translate(408.71,295.12) scale(0.6664,0.6393)" font-size="20" font-weight="bold" fill="#000">0.2</text>
<text transform="translate(409.01,332.12) scale(0.6664,0.6393)" font-size="20" font-weight="bold" fill="#000">0.0</text>
<text transform="translate(406.14,366.48) scale(0.6664,0.6393)" font-size="20" font-weight="bold" fill="#000">-0.2</text>
<text transform="translate(406.14,401.73) scale(0.6664,0.6393)" font-size="20" font-weight="bold" fill="#000">-0.4</text>
<text transform="translate(465.08,414.3) scale(0.6569,0.6786)" font-size="20" font-weight="bold" fill="#000">200</text>
<text transform="translate(504.31,414.3) scale(0.6569,0.6786)" font-size="20" font-weight="bold" fill="#000">400</text>
<text transform="translate(542.93,414.3) scale(0.6569,0.6786)" font-size="20" font-weight="bold" fill="#000">600</text>
<text transform="translate(581.78,414.3) scale(0.6569,0.6786)" font-size="20" font-weight="bold" fill="#000">800</text>
<mask id="m_dx4" maskUnits="userSpaceOnUse" x="-200" y="-200" width="800" height="400"><rect x="-200" y="-200" width="800" height="400" fill="#fff"/><rect x="-0.2" y="-3.22" width="4.86" height="5.62" fill="#000"/><rect x="7.41" y="-3.22" width="4.01" height="5.62" fill="#000"/></mask>
<text transform="translate(617.12,414.3) scale(0.6569,0.6786)" font-size="20" font-weight="bold" fill="#000" mask="url(#m_dx4)">1000</text>
<mask id="m_dx5" maskUnits="userSpaceOnUse" x="-200" y="-200" width="800" height="400"><rect x="-200" y="-200" width="800" height="400" fill="#fff"/><rect x="-0.2" y="-3.22" width="4.86" height="5.62" fill="#000"/><rect x="7.41" y="-3.22" width="4.01" height="5.62" fill="#000"/></mask>
<text transform="translate(656.37,414.3) scale(0.6569,0.6786)" font-size="20" font-weight="bold" fill="#000" mask="url(#m_dx5)">1200</text>
<text transform="translate(512.6,435.81) scale(0.8760,0.8474)" font-size="20" font-weight="bold" fill="#000">Time (s)</text>
<text transform="translate(397.07,377.32) scale(0.8250,0.8750) rotate(-90)" font-size="20" font-weight="bold" fill="#000"><tspan font-style="italic">&#916;</tspan><tspan font-style="italic">V</tspan><tspan font-size="13.0" dy="4.6">SN</tspan><tspan dx="-0.8" dy="-4.6"> (V)</tspan></text>
<mask id="m_d01v" maskUnits="userSpaceOnUse" x="-200" y="-200" width="800" height="400"><rect x="-200" y="-200" width="800" height="400" fill="#fff"/><rect x="16.48" y="-3.23" width="4.87" height="5.63" fill="#000"/><rect x="24.1" y="-3.23" width="4.02" height="5.63" fill="#000"/></mask>
<text transform="translate(451.75,340.9) scale(0.6489,0.6786)" font-size="20" font-weight="bold" fill="#000" mask="url(#m_d01v)">0.1 V</text>
<text transform="translate(439.74,385.21) scale(0.6567,0.6579)" font-size="20" font-weight="bold" fill="#000">I<tspan font-size="13" dy="5">OFF</tspan></text>
<text transform="translate(462.99,384.65) scale(0.6100,0.5500)" font-size="20" font-weight="bold" fill="#000">=</text>
<mask id="m_dnum" maskUnits="userSpaceOnUse" x="-200" y="-200" width="800" height="400"><rect x="-200" y="-200" width="800" height="400" fill="#fff"/><rect x="16.48" y="-3.23" width="4.87" height="5.63" fill="#000"/><rect x="24.1" y="-3.23" width="4.02" height="5.63" fill="#000"/></mask>
<text transform="translate(476.54,373.5) scale(0.5607,0.5500)" font-size="20" font-weight="bold" fill="#000" mask="url(#m_dnum)">0.1V×C<tspan font-size="13" dy="4">SN</tspan></text>
<text transform="translate(491.4,391.27) scale(0.5880,0.6056)" font-size="20" font-weight="bold" fill="#000">t<tspan font-size="14" dy="5">ret</tspan></text>
<text transform="translate(532.84,384.18) scale(0.6600,0.6250)" font-size="20" font-weight="bold" fill="#000">=</text>
<mask id="m_dred" maskUnits="userSpaceOnUse" x="-200" y="-200" width="800" height="400"><rect x="-200" y="-200" width="800" height="400" fill="#fff"/><rect x="39.27" y="-3.23" width="4.87" height="5.63" fill="#000"/><rect x="46.89" y="-3.23" width="4.02" height="5.63" fill="#000"/><rect x="65.8" y="-8.33" width="3.07" height="3.55" fill="#000"/><rect x="70.6" y="-8.33" width="2.53" height="3.55" fill="#000"/></mask>
<text transform="translate(544.9,385.35) scale(0.7992,0.7368)" font-size="20" font-weight="bold" fill="#ff0000" mask="url(#m_dred)">3.2×10<tspan font-size="12.6" dy="-6.3">-18</tspan><tspan font-size="16.8" dy="6.0">A/µm</tspan></text>
<text transform="translate(33.1,472.35) scale(0.7525,0.7714)" font-size="20" font-weight="bold" fill="#000">30</text>
<text transform="translate(33,520) scale(0.7525,0.7714)" font-size="20" font-weight="bold" fill="#000">20</text>
<mask id="m_e10" maskUnits="userSpaceOnUse" x="-200" y="-200" width="800" height="400"><rect x="-200" y="-200" width="800" height="400" fill="#fff"/><rect x="-0.2" y="-3.22" width="4.86" height="5.62" fill="#000"/><rect x="7.41" y="-3.22" width="4.01" height="5.62" fill="#000"/></mask>
<text transform="translate(33,567.8) scale(0.7525,0.7714)" font-size="20" font-weight="bold" fill="#000" mask="url(#m_e10)">10</text>
<text transform="translate(41.27,616.5) scale(0.7525,0.7714)" font-size="20" font-weight="bold" fill="#000">0</text>
<text transform="translate(79.57,627.7) scale(0.7300,0.7929)" font-size="20" font-weight="bold" fill="#000">20</text>
<text transform="translate(123.14,627.7) scale(0.7300,0.7929)" font-size="20" font-weight="bold" fill="#000">40</text>
<text transform="translate(166.07,627.7) scale(0.7300,0.7929)" font-size="20" font-weight="bold" fill="#000">60</text>
<text transform="translate(208.97,627.7) scale(0.7300,0.7929)" font-size="20" font-weight="bold" fill="#000">80</text>
<mask id="m_ex4" maskUnits="userSpaceOnUse" x="-200" y="-200" width="800" height="400"><rect x="-200" y="-200" width="800" height="400" fill="#fff"/><rect x="-0.2" y="-3.22" width="4.86" height="5.62" fill="#000"/><rect x="7.41" y="-3.22" width="4.01" height="5.62" fill="#000"/></mask>
<text transform="translate(251.74,627.7) scale(0.7300,0.7929)" font-size="20" font-weight="bold" fill="#000" mask="url(#m_ex4)">100</text>
<text transform="translate(135.5,647.06) scale(0.8839,0.8842)" font-size="20" font-weight="bold" fill="#000">Time (ms)</text>
<text transform="translate(21.52,595.02) scale(0.9750,0.9768) rotate(-90)" font-size="20" font-weight="bold" fill="#000"><tspan font-style="italic">&#916;</tspan><tspan font-style="italic">I</tspan><tspan font-size="13.0" dy="4.6">RBL</tspan><tspan dx="-0.8" dy="-4.6"> (µA/µm)</tspan></text>
<text transform="translate(237.6,480.78) scale(0.7070,0.7821)" font-size="20" font-weight="bold" fill="#a8780c">200ns</text>
<mask id="m_e100" maskUnits="userSpaceOnUse" x="-200" y="-200" width="800" height="400"><rect x="-200" y="-200" width="800" height="400" fill="#fff"/><rect x="-0.2" y="-3.22" width="4.86" height="5.62" fill="#000"/><rect x="7.41" y="-3.22" width="4.01" height="5.62" fill="#000"/></mask>
<text transform="translate(204.4,499.48) scale(0.7070,0.7821)" font-size="20" font-weight="bold" fill="#a040f0" mask="url(#m_e100)">100ns</text>
<text transform="translate(177.09,516.98) scale(0.7070,0.7821)" font-size="20" font-weight="bold" fill="#0f990f">50ns</text>
<text transform="translate(141.44,549.23) scale(0.7070,0.7821)" font-size="20" font-weight="bold" fill="#0000ff">20ns</text>
<mask id="m_e10n" maskUnits="userSpaceOnUse" x="-200" y="-200" width="800" height="400"><rect x="-200" y="-200" width="800" height="400" fill="#fff"/><rect x="-0.2" y="-3.22" width="4.86" height="5.62" fill="#000"/><rect x="7.41" y="-3.22" width="4.01" height="5.62" fill="#000"/></mask>
<text transform="translate(107.99,582.23) scale(0.7070,0.7821)" font-size="20" font-weight="bold" fill="#ff0000" mask="url(#m_e10n)">10ns</text>
<text transform="translate(84.33,600.38) scale(0.7070,0.7821)" font-size="20" font-weight="bold" fill="#000">5ns</text>
<mask id="m_f100" maskUnits="userSpaceOnUse" x="-200" y="-200" width="800" height="400"><rect x="-200" y="-200" width="800" height="400" fill="#fff"/><rect x="-0.2" y="-3.22" width="4.86" height="5.62" fill="#000"/><rect x="7.41" y="-3.22" width="4.01" height="5.62" fill="#000"/></mask>
<text transform="translate(304.82,463.2) scale(0.7750,0.8143)" font-size="20" font-weight="bold" fill="#000" mask="url(#m_f100)">100</text>
<mask id="m_f10" maskUnits="userSpaceOnUse" x="-200" y="-200" width="800" height="400"><rect x="-200" y="-200" width="800" height="400" fill="#fff"/><rect x="-0.2" y="-3.22" width="4.86" height="5.62" fill="#000"/><rect x="7.41" y="-3.22" width="4.01" height="5.62" fill="#000"/></mask>
<text transform="translate(314.23,537.2) scale(0.7750,0.8143)" font-size="20" font-weight="bold" fill="#000" mask="url(#m_f10)">10</text>
<mask id="m_f1" maskUnits="userSpaceOnUse" x="-200" y="-200" width="800" height="400"><rect x="-200" y="-200" width="800" height="400" fill="#fff"/><rect x="-0.2" y="-3.22" width="4.86" height="5.62" fill="#000"/><rect x="7.41" y="-3.22" width="4.01" height="5.62" fill="#000"/></mask>
<text transform="translate(323.88,611) scale(0.7750,0.8143)" font-size="20" font-weight="bold" fill="#000" mask="url(#m_f1)">1</text>
<text transform="translate(331.82,628.4) scale(0.7688,0.8143)" font-size="20" font-weight="bold" fill="#000">0</text>
<mask id="m_fx1" maskUnits="userSpaceOnUse" x="-200" y="-200" width="800" height="400"><rect x="-200" y="-200" width="800" height="400" fill="#fff"/><rect x="-0.2" y="-3.22" width="4.86" height="5.62" fill="#000"/><rect x="7.41" y="-3.22" width="4.01" height="5.62" fill="#000"/></mask>
<text transform="translate(382.43,628.4) scale(0.7688,0.8143)" font-size="20" font-weight="bold" fill="#000" mask="url(#m_fx1)">100</text>
<text transform="translate(440.93,628.4) scale(0.7688,0.8143)" font-size="20" font-weight="bold" fill="#000">200</text>
<text transform="translate(363.12,648.35) scale(0.9398,0.9435)" font-size="20" font-weight="bold" fill="#000"><tspan font-style="italic">T</tspan><tspan font-size="14" dy="5">pulse</tspan><tspan dy="-5"> (ns)</tspan></text>
<text transform="translate(306.97,589.04) scale(0.8650,0.8648) rotate(-90)" font-size="20" font-weight="bold" fill="#000"><tspan font-style="italic">&#916;</tspan><tspan font-style="italic">I</tspan><tspan font-size="13.0" dy="4.6">RBL</tspan><tspan dx="-0.8" dy="-4.6"> (µA/µm)</tspan></text>
<text transform="translate(507.02,469.9) scale(0.8846,0.7214)" font-size="20" font-weight="bold" fill="#000">90</text>
<text transform="translate(507.02,492.6) scale(0.8846,0.7214)" font-size="20" font-weight="bold" fill="#000">60</text>
<text transform="translate(506.62,515.1) scale(0.8846,0.7214)" font-size="20" font-weight="bold" fill="#000">30</text>
<text transform="translate(516.35,537.5) scale(0.8846,0.7214)" font-size="20" font-weight="bold" fill="#000">0</text>
<text transform="translate(499.42,561.85) scale(0.8846,0.7214)" font-size="20" font-weight="bold" fill="#000">0.8</text>
<text transform="translate(499.42,588.5) scale(0.8846,0.7214)" font-size="20" font-weight="bold" fill="#000">0.6</text>
<text transform="translate(498.53,615.2) scale(0.8846,0.7214)" font-size="20" font-weight="bold" fill="#000">0.4</text>
<mask id="m_gx0" maskUnits="userSpaceOnUse" x="-200" y="-200" width="800" height="400"><rect x="-200" y="-200" width="800" height="400" fill="#fff"/><rect x="-0.2" y="-3.22" width="4.86" height="5.62" fill="#000"/><rect x="7.41" y="-3.22" width="4.01" height="5.62" fill="#000"/></mask>
<text transform="translate(523.05,629.5) scale(0.8468,0.7176)" font-size="20" font-weight="bold" fill="#000" mask="url(#m_gx0)">10<tspan font-size="13.2" dy="-7.8">0</tspan></text>
<mask id="m_gx1" maskUnits="userSpaceOnUse" x="-200" y="-200" width="800" height="400"><rect x="-200" y="-200" width="800" height="400" fill="#fff"/><rect x="-0.2" y="-3.22" width="4.86" height="5.62" fill="#000"/><rect x="7.41" y="-3.22" width="4.01" height="5.62" fill="#000"/><rect x="22.12" y="-9.93" width="3.21" height="3.71" fill="#000"/><rect x="27.14" y="-9.93" width="2.65" height="3.71" fill="#000"/></mask>
<text transform="translate(564.64,629.5) scale(0.8468,0.7176)" font-size="20" font-weight="bold" fill="#000" mask="url(#m_gx1)">10<tspan font-size="13.2" dy="-7.8">1</tspan></text>
<mask id="m_gx2" maskUnits="userSpaceOnUse" x="-200" y="-200" width="800" height="400"><rect x="-200" y="-200" width="800" height="400" fill="#fff"/><rect x="-0.2" y="-3.22" width="4.86" height="5.62" fill="#000"/><rect x="7.41" y="-3.22" width="4.01" height="5.62" fill="#000"/></mask>
<text transform="translate(605.8,629.5) scale(0.8468,0.7176)" font-size="20" font-weight="bold" fill="#000" mask="url(#m_gx2)">10<tspan font-size="13.2" dy="-7.8">2</tspan></text>
<mask id="m_gx3" maskUnits="userSpaceOnUse" x="-200" y="-200" width="800" height="400"><rect x="-200" y="-200" width="800" height="400" fill="#fff"/><rect x="-0.2" y="-3.22" width="4.86" height="5.62" fill="#000"/><rect x="7.41" y="-3.22" width="4.01" height="5.62" fill="#000"/></mask>
<text transform="translate(646.85,629.5) scale(0.8468,0.7176)" font-size="20" font-weight="bold" fill="#000" mask="url(#m_gx3)">10<tspan font-size="13.2" dy="-7.8">3</tspan></text>
<text transform="translate(560.2,650.41) scale(0.9760,0.9474)" font-size="20" font-weight="bold" fill="#000">Time (s)</text>
<text transform="translate(550.29,503.2) scale(0.7095,0.7000)" font-size="20" font-weight="bold" fill="#000">Si-Si</text>
<text transform="translate(559.7,570.9) scale(0.5973,0.6500)" font-size="20" font-weight="bold" fill="#ff0000">MoS<tspan font-size="13" dy="4">2</tspan><tspan dy="-4">- MoS</tspan><tspan font-size="13" dy="4">2</tspan></text>
<text transform="translate(488.12,568.8) scale(0.8750,0.8718) rotate(-90)" font-size="20" font-weight="bold" fill="#000"><tspan font-style="italic">I</tspan><tspan font-size="13.0" dy="4.6">RBL</tspan><tspan dx="-0.8" dy="-4.6"> (µA/µm)</tspan></text>
</svg></body></html>
